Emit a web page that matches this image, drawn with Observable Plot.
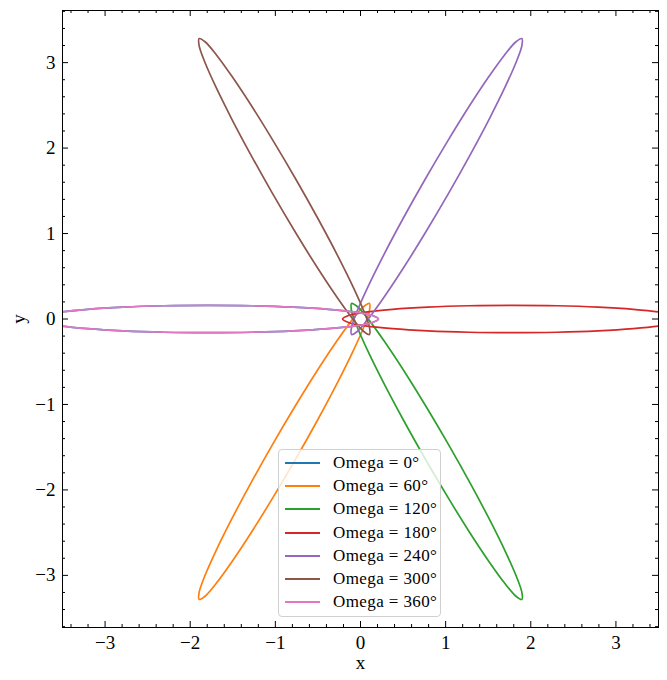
<!DOCTYPE html>
<html>
<head>
<meta charset="utf-8">
<script src="https://cdn.jsdelivr.net/npm/d3@7"></script>
<script src="https://cdn.jsdelivr.net/npm/@observablehq/plot@0.6"></script>
<style>
  html, body { margin: 0; padding: 0; background: #fff; }
  #fig { position: relative; width: 667px; height: 680px; }
  #legend {
    position: absolute; left: 278px; top: 449px; width: 163px; height: 168px;
    box-sizing: border-box; border: 1px solid #d0d0d0; border-radius: 4px;
    background: rgba(255,255,255,0.8);
    font-family: "Liberation Serif", serif; font-size: 17px; letter-spacing: 0.4px; color: #000;
  }
  .row { position: absolute; left: 0; height: 20px; }
  .sw { position: absolute; left: 6px; width: 35px; height: 0; border-top: 2px solid; }
  .lb { position: absolute; left: 54px; top: 0; line-height: 20px; white-space: nowrap; }
</style>
</head>
<body>
<div id="fig"></div>
<script>
// Omega values (degrees) and colours
const omegas = [0, 60, 120, 180, 240, 300, 360];
const colors = ["#1f77b4", "#ff7f0e", "#2ca02c", "#d62728", "#9467bd", "#8c564b", "#e377c2"];

// Orbit traces (x, y), one pair of arrays per Omega
const x0   = [-3.79,-3.722,-3.522,-3.204,-2.79,-2.308,-1.79,-1.272,-0.79,-0.376,-0.058,0.142,0.21,0.142,-0.058,-0.376,-0.79,-1.272,-1.79,-2.308,-2.79,-3.204,-3.522,-3.722];
const y0   = [0,-0.041,-0.08,-0.113,-0.139,-0.155,-0.16,-0.155,-0.139,-0.113,-0.08,-0.041,0,0.041,0.08,0.113,0.139,0.155,0.16,0.155,0.139,0.113,0.08,0.041];
const x60  = [-1.895,-1.826,-1.692,-1.504,-1.275,-1.02,-0.756,-0.502,-0.275,-0.09,0.04,0.106,0.105,0.035,-0.098,-0.286,-0.515,-0.77,-1.034,-1.288,-1.515,-1.7,-1.83,-1.896];
const y60  = [-3.282,-3.244,-3.09,-2.831,-2.486,-2.076,-1.63,-1.179,-0.754,-0.382,-0.09,0.102,0.182,0.143,-0.01,-0.269,-0.614,-1.024,-1.47,-1.921,-2.346,-2.718,-3.01,-3.202];
const x120 = [1.895,1.826,1.692,1.504,1.275,1.02,0.756,0.502,0.275,0.09,-0.04,-0.106,-0.105,-0.035,0.098,0.286,0.515,0.77,1.034,1.288,1.515,1.7,1.83,1.896];
const y120 = [-3.282,-3.244,-3.09,-2.831,-2.486,-2.076,-1.63,-1.179,-0.754,-0.382,-0.09,0.102,0.182,0.143,-0.01,-0.269,-0.614,-1.024,-1.47,-1.921,-2.346,-2.718,-3.01,-3.202];
const x180 = [3.79,3.722,3.522,3.204,2.79,2.308,1.79,1.272,0.79,0.376,0.058,-0.142,-0.21,-0.142,0.058,0.376,0.79,1.272,1.79,2.308,2.79,3.204,3.522,3.722];
const y180 = [0,0.041,0.08,0.113,0.139,0.155,0.16,0.155,0.139,0.113,0.08,0.041,0,-0.041,-0.08,-0.113,-0.139,-0.155,-0.16,-0.155,-0.139,-0.113,-0.08,-0.041];
const x240 = [1.895,1.826,1.692,1.504,1.275,1.02,0.756,0.502,0.275,0.09,-0.04,-0.106,-0.105,-0.035,0.098,0.286,0.515,0.77,1.034,1.288,1.515,1.7,1.83,1.896];
const y240 = [3.282,3.244,3.09,2.831,2.486,2.076,1.63,1.179,0.754,0.382,0.09,-0.102,-0.182,-0.143,0.01,0.269,0.614,1.024,1.47,1.921,2.346,2.718,3.01,3.202];
const x300 = [-1.895,-1.826,-1.692,-1.504,-1.275,-1.02,-0.756,-0.502,-0.275,-0.09,0.04,0.106,0.105,0.035,-0.098,-0.286,-0.515,-0.77,-1.034,-1.288,-1.515,-1.7,-1.83,-1.896];
const y300 = [3.282,3.244,3.09,2.831,2.486,2.076,1.63,1.179,0.754,0.382,0.09,-0.102,-0.182,-0.143,0.01,0.269,0.614,1.024,1.47,1.921,2.346,2.718,3.01,3.202];
const x360 = x0.slice();
const y360 = y0.slice();

// Tick values
const xMajor = [-3, -2, -1, 0, 1, 2, 3];
const yMajor = [-3, -2, -1, 0, 1, 2, 3];
const xMinor = [-3.4,-3.2,-2.8,-2.6,-2.4,-2.2,-1.8,-1.6,-1.4,-1.2,-0.8,-0.6,-0.4,-0.2,0.2,0.4,0.6,0.8,1.2,1.4,1.6,1.8,2.2,2.4,2.6,2.8,3.2,3.4];
const yMinor = [-3.6,-3.4,-3.2,-2.8,-2.6,-2.4,-2.2,-1.8,-1.6,-1.4,-1.2,-0.8,-0.6,-0.4,-0.2,0.2,0.4,0.6,0.8,1.2,1.4,1.6,1.8,2.2,2.4,2.6,2.8,3.2,3.4,3.6];

const series = [[x0,y0],[x60,y60],[x120,y120],[x180,y180],[x240,y240],[x300,y300],[x360,y360]];
const tables = series.map(([xs, ys], k) => xs.map((x, i) => ({omega: omegas[k], x, y: ys[i]})));

const W = 667, H = 680;
const mL = 62, mR = 9, mT = 10, mB = 53;
const iH = H - mT - mB, iW = W - mL - mR;
const fmt = d => d < 0 ? "\u2212" + (-d) : String(d);
const font = "'Liberation Serif', serif";

const marks = [];
tables.forEach((t, k) => {
  marks.push(Plot.line(t, {x: "x", y: "y", curve: "catmull-rom-closed", stroke: colors[k], strokeWidth: 1.7, clip: true}));
});
// inward ticks on all four sides
marks.push(
  Plot.tickX(xMajor, {x: d => d, insetTop: iH - 6, stroke: "black"}),
  Plot.tickX(xMajor, {x: d => d, insetBottom: iH - 6, stroke: "black"}),
  Plot.tickX(xMinor, {x: d => d, insetTop: iH - 3, stroke: "black"}),
  Plot.tickX(xMinor, {x: d => d, insetBottom: iH - 3, stroke: "black"}),
  Plot.tickY(yMajor, {y: d => d, insetRight: iW - 6, stroke: "black"}),
  Plot.tickY(yMajor, {y: d => d, insetLeft: iW - 6, stroke: "black"}),
  Plot.tickY(yMinor, {y: d => d, insetRight: iW - 3, stroke: "black"}),
  Plot.tickY(yMinor, {y: d => d, insetLeft: iW - 3, stroke: "black"}),
  Plot.axisX(xMajor, {anchor: "bottom", tickSize: 0, tickPadding: 8, tickFormat: fmt, fontSize: 19, label: null}),
  Plot.axisY(yMajor, {anchor: "left", tickSize: 0, tickPadding: 7, tickFormat: fmt, fontSize: 19, label: null}),
  Plot.text(["x"], {frameAnchor: "bottom", dy: 35, fontSize: 19, lineAnchor: "middle", textAnchor: "middle", text: d => d}),
  Plot.text(["y"], {frameAnchor: "left", dx: -44, fontSize: 19, rotate: -90, lineAnchor: "middle", textAnchor: "middle", text: d => d}),
  Plot.frame({stroke: "black", strokeWidth: 1})
);

const chart = Plot.plot({
  width: W, height: H,
  marginLeft: mL, marginRight: mR, marginTop: mT, marginBottom: mB,
  x: {domain: [-3.5, 3.5]},
  y: {domain: [-3.61, 3.61]},
  style: {fontFamily: font, color: "black", background: "white", overflow: "visible"},
  marks
});
const fig = document.getElementById("fig");
fig.appendChild(chart);

// legend
const leg = document.createElement("div");
leg.id = "legend";
omegas.forEach((o, k) => {
  const row = document.createElement("div");
  row.className = "row";
  row.style.top = (3 + k * 23.2) + "px";
  const sw = document.createElement("div");
  sw.className = "sw"; sw.style.borderColor = colors[k]; sw.style.top = "9px";
  const lb = document.createElement("div");
  lb.className = "lb"; lb.textContent = "Omega = " + o + "\u00b0";
  row.appendChild(sw); row.appendChild(lb);
  leg.appendChild(row);
});
fig.appendChild(leg);
</script>
</body>
</html>
